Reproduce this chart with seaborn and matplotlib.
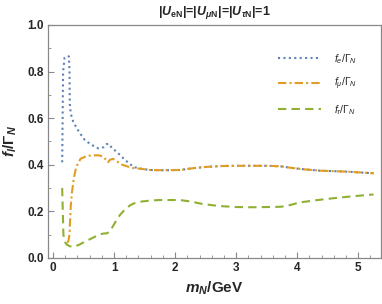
import numpy as np
import pandas as pd
import seaborn as sns
import matplotlib
matplotlib.use("Agg")
import matplotlib.pyplot as plt
from matplotlib.ticker import MultipleLocator

# ---------------- data ----------------
tail_x = [1.45, 1.59, 1.8, 2.08, 2.3, 2.5, 2.74, 3.0, 3.28, 3.5, 3.72, 3.94, 4.15, 4.38, 4.81, 5.25]
tail_y = [0.382, 0.377, 0.376, 0.377, 0.385, 0.390, 0.394, 0.395, 0.395, 0.395, 0.393, 0.385, 0.379, 0.374, 0.370, 0.363]

fe_x = [0.15, 0.165, 0.19, 0.22, 0.26, 0.27, 0.275, 0.29, 0.33, 0.39, 0.44, 0.52, 0.63, 0.74, 0.83, 0.88, 0.91,
        0.97, 1.04, 1.18, 1.32] + tail_x
fe_y = [0.41, 0.80, 0.86, 0.865, 0.865, 0.80, 0.66, 0.62, 0.585, 0.556, 0.535, 0.506, 0.485, 0.47, 0.475, 0.488, 0.49,
        0.47, 0.456, 0.42, 0.39] + tail_y

fmu_x = [0.23, 0.25, 0.27, 0.29, 0.31, 0.34, 0.38, 0.45, 0.55, 0.65, 0.75, 0.82, 0.87, 0.90, 0.93, 0.98,
         1.04, 1.13, 1.21, 1.32] + tail_x
fmu_y = [0.065, 0.07, 0.10, 0.22, 0.28, 0.34, 0.39, 0.425, 0.437, 0.44, 0.44, 0.435, 0.42, 0.41, 0.42, 0.425,
         0.415, 0.40, 0.393, 0.385] + tail_y

ftau_x = [0.15, 0.16, 0.17, 0.19, 0.22, 0.27, 0.33, 0.42, 0.52, 0.63, 0.74, 0.82, 0.88, 0.93, 0.98, 1.04, 1.1,
          1.18, 1.26, 1.33, 1.43, 1.6, 1.75, 2.08, 2.25, 2.41, 2.6, 2.74, 3.0, 3.28, 3.72, 3.82, 3.89, 4.05,
          4.3, 4.6, 4.9, 5.25]
ftau_y = [0.30, 0.20, 0.10, 0.07, 0.058, 0.05, 0.047, 0.055, 0.069, 0.083, 0.098, 0.104, 0.105, 0.112, 0.135,
          0.162, 0.185, 0.208, 0.225, 0.234, 0.241, 0.246, 0.248, 0.248, 0.242, 0.233, 0.226, 0.222, 0.218,
          0.217, 0.219, 0.222, 0.227, 0.238, 0.247, 0.256, 0.264, 0.272]

labels = [r"$f_e/\Gamma_N$", r"$f_\mu/\Gamma_N$", r"$f_\tau/\Gamma_N$"]
colors = ["#5e81b5", "#e19c24", "#8fb032"]

# ---------------- style ----------------
sns.set_style("ticks")
plt.rcParams["font.family"] = ["Liberation Sans", "DejaVu Sans"]
plt.rcParams["mathtext.fontset"] = "custom"
plt.rcParams["mathtext.rm"] = "Liberation Sans"
plt.rcParams["mathtext.it"] = "Liberation Sans:italic"
plt.rcParams["mathtext.bf"] = "Liberation Sans:bold"
plt.rcParams["mathtext.bfit"] = "Liberation Sans:italic:bold"

fig = plt.figure(figsize=(3.82, 3.04), dpi=100)
ax = fig.add_axes([0.126, 0.152, 0.871, 0.766])

series = [(fe_x, fe_y, (0, (1, 1.6))), (fmu_x, fmu_y, (0, (4, 1.5, 1, 1.5))), (ftau_x, ftau_y, (0, (4, 2.5)))]
for (xs, ys, ls), lab, c in zip(series, labels, colors):
    df = pd.DataFrame({"m": xs, "f": ys})
    sns.lineplot(data=df, x="m", y="f", ax=ax, sort=False, estimator=None, color=c,
                 linewidth=1.5, linestyle=ls, label=lab)

ax.set_xlim(-0.08, 5.37)
ax.set_ylim(0, 1.0)
ax.xaxis.set_major_locator(MultipleLocator(1))
ax.xaxis.set_minor_locator(MultipleLocator(0.2))
ax.yaxis.set_major_locator(MultipleLocator(0.2))
ax.yaxis.set_minor_locator(MultipleLocator(0.1))
ax.tick_params(which="both", direction="in", color="#888888", top=False, right=False)
ax.tick_params(which="major", length=4, width=0.8, labelsize=8.5, pad=3)
ax.tick_params(which="minor", length=2.5, width=0.6)
for lbl in ax.get_xticklabels() + ax.get_yticklabels():
    lbl.set_fontweight("bold")
ax.set_yticks(ax.get_yticks())
ax.set_yticklabels([f"{v:.1f}" for v in ax.get_yticks()], fontweight="bold")
ax.set_xticks(ax.get_xticks())
ax.set_xticklabels([f"{int(v)}" for v in ax.get_xticks()], fontweight="bold")
ax.set_xlim(-0.08, 5.37)
ax.set_ylim(0, 1.0)
for s in ax.spines.values():
    s.set_color("#888888")
    s.set_linewidth(0.9)

ax.set_xlabel(r"$\mathbfit{m}_{\mathbfit{N}}$/GeV", fontsize=11, fontweight="bold", labelpad=4)
ax.set_ylabel(r"$\mathbfit{f}_{\mathbfit{l}}\mathbf{/}\mathbf{\Gamma}_{\mathbfit{N}}$", fontsize=11, labelpad=6)
ax.set_title(r"|$\mathbfit{U}_{\mathbf{eN}}$|=|$\mathbfit{U}_{\mathbfit{\mu}\mathbf{N}}$|=|$\mathbfit{U}_{\mathbfit{\tau}\mathbf{N}}$|=1",
             fontsize=9, fontweight="bold", pad=7)

leg = ax.legend(loc="upper left", bbox_to_anchor=(0.69, 0.885), frameon=False, fontsize=7.5,
                handlelength=4.2, handletextpad=1.2, labelspacing=1.0, borderpad=0, borderaxespad=0)

fig.savefig("out.png", dpi=100)
